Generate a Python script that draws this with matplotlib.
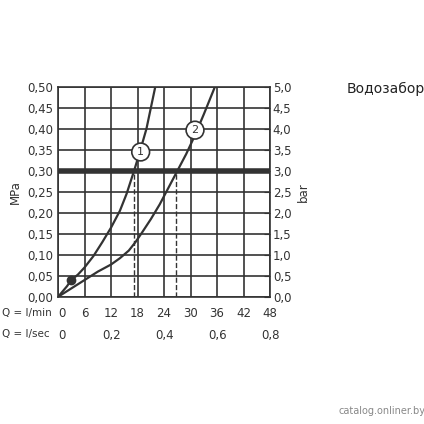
import matplotlib
matplotlib.use('Agg')
import matplotlib.pyplot as plt

q1 = [0, 2, 3, 4.5, 6, 8, 10, 12, 14, 15.5, 17.2, 18.5, 20, 22]
p1 = [0, 0.025, 0.04, 0.053, 0.07, 0.097, 0.13, 0.165, 0.205, 0.245, 0.3, 0.345, 0.4, 0.5]
q2 = [0, 3, 6, 9, 12, 14, 16, 17.5, 19, 21, 23, 25, 27, 29, 31, 33, 35.5]
p2 = [0, 0.02, 0.04, 0.06, 0.077, 0.092, 0.11, 0.13, 0.153, 0.185, 0.22, 0.26, 0.3, 0.34, 0.385, 0.435, 0.5]
lmin_ticks = [0, 6, 12, 18, 24, 30, 36, 42, 48]
lsec_labels = ['0', '0,2', '0,4', '0,6', '0,8']
mpa_ticks = [i * 0.05 for i in range(11)]
col = '#333333'
fs = 8.5

fig = plt.figure(figsize=(4.24, 4.24), dpi=100)
ax = fig.add_axes([0.137, 0.3, 0.5, 0.495])
ax.set_xlim(0, 48)
ax.set_ylim(0, 0.5)
ax.set_xticks(lmin_ticks)
ax.set_yticks(mpa_ticks)
ax.grid(True, color=col, lw=1.2)
ax.tick_params(length=0, labelsize=fs, colors=col)
ax.set_xticklabels([])
ax.yaxis.set_major_formatter(matplotlib.ticker.FuncFormatter(lambda v, p: ('%.2f' % v).replace('.', ',')))
for s in ax.spines.values():
    s.set_color(col)
    s.set_linewidth(1.2)
ax.set_ylabel('MPa', fontsize=fs, color=col)

ax2 = ax.twinx()
ax2.set_ylim(0, 5)
ax2.set_yticks([i * 0.5 for i in range(11)])
ax2.yaxis.set_major_formatter(matplotlib.ticker.FuncFormatter(lambda v, p: ('%.1f' % v).replace('.', ',')))
ax2.tick_params(length=4, labelsize=fs, colors=col, direction='in', pad=2)
ax2.set_ylabel('bar', fontsize=fs, color=col)
for s in ax2.spines.values():
    s.set_visible(False)

ax.plot(q1, p1, color=col, lw=1.6)
ax.plot(q2, p2, color=col, lw=1.6)
ax.axhline(0.3, color=col, lw=4)
ax.plot([17.2, 17.2], [0, 0.3], color=col, lw=1, ls='--')
ax.plot([26.8, 26.8], [0, 0.3], color=col, lw=1, ls='--')
ax.plot([3], [0.04], 'o', color=col, ms=6)
for x, y, t in [(18.7, 0.345, '1'), (31, 0.397, '2')]:
    ax.text(x, y, t, ha='center', va='center', fontsize=8, color=col,
            bbox=dict(boxstyle='circle,pad=0.35', fc='white', ec=col, lw=1.2))

for v in lmin_ticks:
    ax.text(v + (0.8 if v == 0 else 0), -0.04, str(v), ha='center', va='center', fontsize=fs, color=col)
for i, t in enumerate(lsec_labels):
    ax.text(i * 12 + (0.8 if i == 0 else 0), -0.093, t, ha='center', va='center', fontsize=fs, color=col)
fig.text(0.005, 0.262, 'Q = l/min', ha='left', va='center', fontsize=7.5, color=col)
fig.text(0.005, 0.212, 'Q = l/sec', ha='left', va='center', fontsize=7.5, color=col)

fig.text(0.91, 0.79, 'Водозабор', ha='center', va='center', fontsize=10, color='#222222')
fig.text(0.9, 0.03, 'catalog.onliner.by', ha='center', va='center', fontsize=7, color='#888888')
fig.savefig('out.png', dpi=100)
